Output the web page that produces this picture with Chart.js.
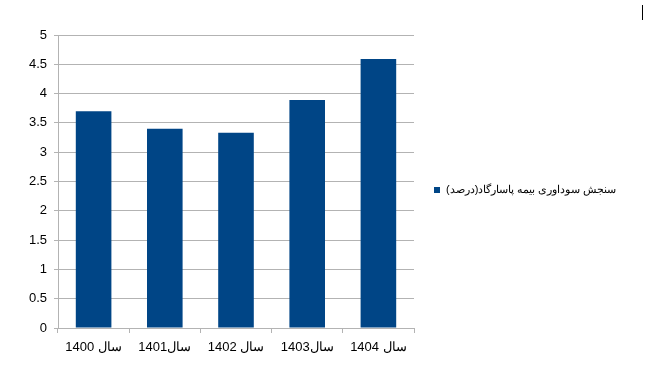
<!DOCTYPE html>
<html>
<head>
<meta charset="utf-8">
<script src="https://cdn.jsdelivr.net/npm/chart.js@4/dist/chart.umd.min.js"></script>
<style>
    html, body { margin: 0; padding: 0; background: #fff; }
    #wrap { position: relative; width: 658px; height: 374px; }
    #caret { position: absolute; left: 642px; top: 5px; width: 1px; height: 15px; background: #000; }
</style>
</head>
<body>
<div id="wrap">
    <canvas id="chart" width="658" height="374"></canvas>
    <div id="caret"></div>
</div>
<script>
const categories = ['سال 1400', 'سال1401', 'سال 1402', 'سال1403', 'سال 1404'];
const seriesName = 'سنجش سوداوری بیمه پاسارگاد(درصد)';
const seriesValues = [3.70, 3.40, 3.33, 3.89, 4.59];
const yTicks = [0, 0.5, 1, 1.5, 2, 2.5, 3, 3.5, 4, 4.5, 5];

const FONT = 'Liberation Sans, Arial, sans-serif';

// legend drawn beside the plot, like the office chart
const sideLegend = {
    id: 'sideLegend',
    afterDraw(chart) {
        const ctx = chart.ctx;
        const ds = chart.data.datasets[0];
        const y = 190;
        ctx.save();
        ctx.fillStyle = ds.backgroundColor;
        ctx.fillRect(434, y - 3, 6, 6);
        ctx.fillStyle = '#000';
        ctx.font = '11px ' + FONT;
        ctx.textBaseline = 'middle';
        ctx.direction = 'rtl';
        ctx.textAlign = 'left';
        ctx.fillText(ds.label, 446, y);
        ctx.restore();
    }
};

new Chart(document.getElementById('chart'), {
    type: 'bar',
    data: {
        labels: categories,
        datasets: [{
            label: seriesName,
            data: seriesValues,
            backgroundColor: '#004586',
            categoryPercentage: 1,
            barPercentage: 0.5
        }]
    },
    options: {
        responsive: false,
        animation: false,
        layout: { padding: { top: 35, right: 244, bottom: 0, left: 0 } },
        plugins: {
            legend: { display: false },
            tooltip: { enabled: false }
        },
        scales: {
            x: {
                grid: { drawOnChartArea: false, color: '#b3b3b3', tickLength: 5, offset: true },
                border: { color: '#b3b3b3' },
                ticks: { color: '#000', font: { family: FONT, size: 13 }, padding: 7, maxRotation: 0 },
                afterFit(scale) { scale.height = 46; }
            },
            y: {
                min: 0,
                max: 5,
                afterBuildTicks(scale) { scale.ticks = yTicks.map(v => ({ value: v })); },
                grid: { color: '#b3b3b3', tickLength: 4 },
                border: { color: '#b3b3b3' },
                ticks: { color: '#000', font: { family: FONT, size: 13 }, padding: 7, callback: v => String(v) },
                afterFit(scale) { scale.width = 58; }
            }
        }
    },
    plugins: [sideLegend]
});
</script>
</body>
</html>
